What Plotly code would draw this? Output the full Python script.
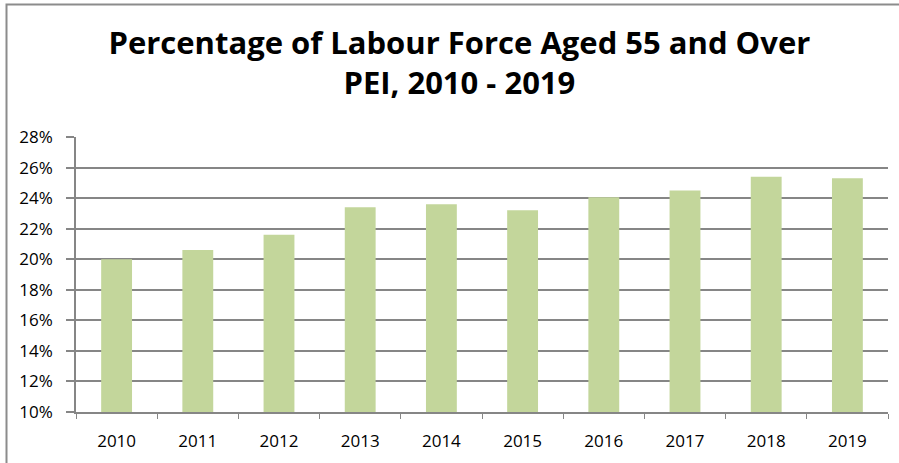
import plotly.graph_objects as go

years = ["2010", "2011", "2012", "2013", "2014", "2015", "2016", "2017", "2018", "2019"]
share_55_plus = [0.200, 0.206, 0.216, 0.234, 0.236, 0.232, 0.2405, 0.245, 0.254, 0.253]
y_ticks = [0.10, 0.12, 0.14, 0.16, 0.18, 0.20, 0.22, 0.24, 0.26, 0.28]

W, H = 899, 463
L, R, T, B = 76, 11, 137, 51
pw, ph = W - L - R, H - T - B

fig = go.Figure(go.Bar(
    x=years, y=share_55_plus,
    marker=dict(color="#C3D69B", line=dict(width=0)),
    width=0.38,
))

grid = "#868686"
fig.update_layout(
    width=W, height=H,
    margin=dict(l=L, r=R, t=T, b=B, pad=0, autoexpand=False),
    paper_bgcolor="white", plot_bgcolor="white",
    showlegend=False,
    font=dict(family="Open Sans", color="#000000"),
    title=dict(
        text="<b>Percentage of Labour Force Aged 55 and Over<br>PEI, 2010 - 2019</b>",
        x=0.511, xanchor="center", y=1 - 54 / H, yanchor="bottom",
        font=dict(family="Open Sans", size=31, color="#000000"),
    ),
    xaxis=dict(
        type="category", automargin=False,
        showline=True, linecolor=grid, linewidth=1.5,
        ticks="outside", tickson="boundaries", ticklen=5, tickcolor=grid, tickwidth=1,
        showgrid=False,
        tickfont=dict(family="Open Sans", size=17, color="#000000"),
        ticklabelstandoff=13,
    ),
    yaxis=dict(
        range=[0.10, 0.28], automargin=False,
        tickvals=y_ticks, tickformat=".0%",
        showline=True, linecolor=grid, linewidth=1.5,
        ticks="outside", ticklen=8, tickcolor=grid, tickwidth=1.5,
        showgrid=True, gridcolor=grid, gridwidth=1.5,
        zeroline=False,
        tickfont=dict(family="Open Sans", size=17, color="#000000"),
        ticklabelstandoff=10,
    ),
    shapes=[dict(
        type="rect", xref="paper", yref="paper", layer="above",
        x0=(6.5 - L) / pw, x1=(W + 10 - L) / pw,
        y0=(H - B - (H + 10)) / ph, y1=(H - B - 4.5) / ph,
        line=dict(color="#8C8C8C", width=2), fillcolor="rgba(0,0,0,0)",
    )],
)

fig.write_html(
    "out.html",
    config={"displayModeBar": False},
    post_script="document.body.style.margin='0';document.body.style.overflow='hidden';",
)
